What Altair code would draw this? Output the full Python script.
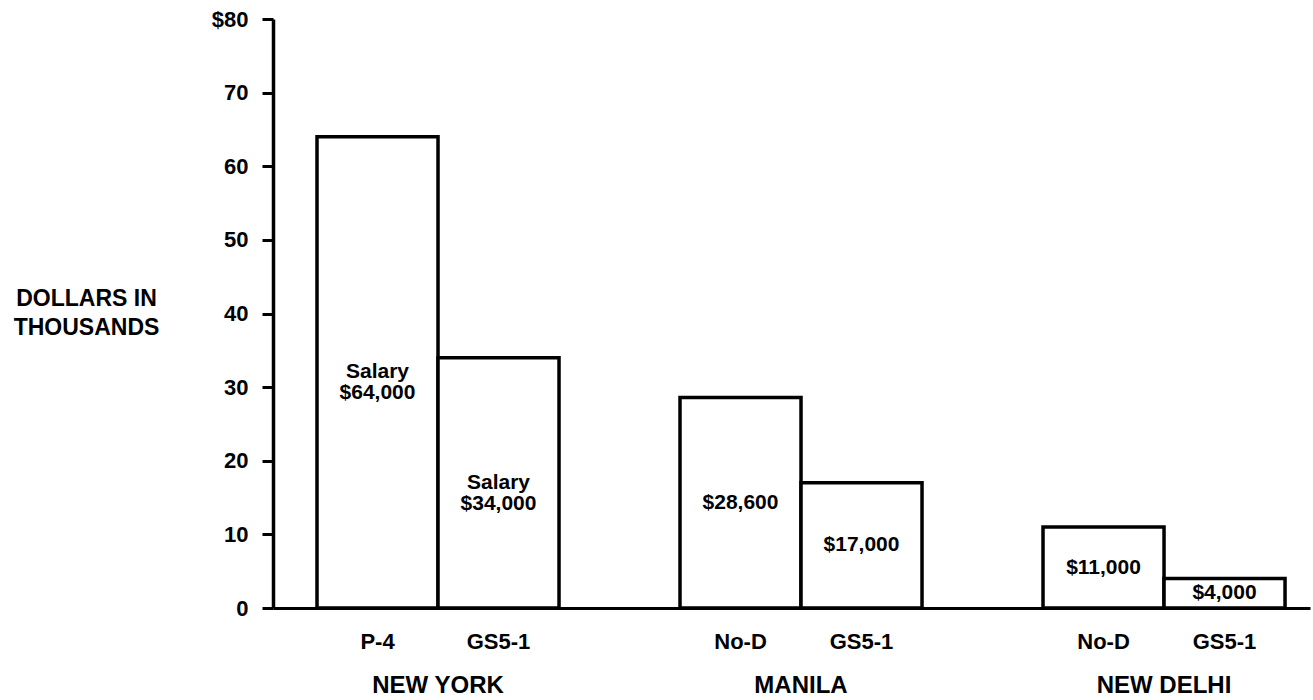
import altair as alt
import pandas as pd

# ---- data ----
cities = ["NEW YORK", "NEW YORK", "MANILA", "MANILA", "NEW DELHI", "NEW DELHI"]
grades = ["P-4", "GS5-1", "No-D", "GS5-1", "No-D", "GS5-1"]
slots = [0, 1, 0, 1, 0, 1]
values = [64, 34, 28.6, 17, 11, 4]
bar_labels = ["Salary\n$64,000", "Salary\n$34,000", "$28,600", "$17,000", "$11,000", "$4,000"]
city_order = ["NEW YORK", "MANILA", "NEW DELHI"]
y_ticks = [0, 10, 20, 30, 40, 50, 60, 70, 80]

df = pd.DataFrame({
    "city": cities,
    "grade": grades,
    "slot": slots,
    "value": values,
    "label": bar_labels,
})

FONT = "Liberation Sans"

x_enc = alt.X(
    "city:N",
    sort=city_order,
    scale=alt.Scale(paddingInner=0.3333, paddingOuter=0.095, align=0.638),
    axis=alt.Axis(
        title=None, ticks=False, tickSize=0, labelAngle=0,
        labelFont=FONT, labelFontSize=24, labelFontWeight="bold",
        labelColor="black", labelPadding=65, labelBaseline="top",
        domainColor="black", domainWidth=3,
    ),
)
xo_enc = alt.XOffset("slot:O", scale=alt.Scale(paddingInner=0, paddingOuter=0))

y_axis = alt.Axis(
    values=y_ticks,
    labelExpr="datum.value == 80 ? '$80' : datum.label",
    grid=False,
    tickSize=11, tickWidth=3, tickColor="black",
    domainColor="black", domainWidth=3.5,
    labelFont=FONT, labelFontSize=22, labelFontWeight="bold",
    labelColor="black", labelPadding=14,
    title=["DOLLARS IN", "THOUSANDS"],
    titleAngle=0, titleAlign="center", titleBaseline="alphabetic",
    titleX=-187, titleY=286,
    titleFont=FONT, titleFontSize=23, titleFontWeight="bold",
    titleColor="black", titleLineHeight=29,
)
y_scale = alt.Scale(domain=[0, 80], nice=False, zero=True)

base = alt.Chart(df)

bars = base.mark_bar(fill="white", stroke="black", strokeWidth=3.5).encode(
    x=x_enc,
    xOffset=xo_enc,
    y=alt.Y("value:Q", scale=y_scale, axis=y_axis),
)

vals = base.transform_calculate(mid="datum.value / 2").mark_text(
    lineBreak="\n", font=FONT, fontSize=21, fontWeight="bold",
    lineHeight=21, color="black", baseline="middle", align="center",
).encode(
    x=x_enc,
    xOffset=xo_enc,
    y=alt.Y("mid:Q", scale=y_scale, axis=y_axis),
    text="label:N",
)

subs = base.mark_text(
    font=FONT, fontSize=22, fontWeight="bold", color="black",
    baseline="middle", align="center",
).encode(
    x=x_enc,
    xOffset=xo_enc,
    y=alt.value(623),
    text="grade:N",
)

chart = alt.layer(bars, vals, subs).properties(
    width=1037,
    height=589,
    autosize=alt.AutoSizeParams(type="none"),
    padding={"left": 273, "top": 19, "right": 3, "bottom": 92},
    background="white",
).configure_view(stroke=None)

chart.save("out.html", embed_options={"renderer": "svg", "actions": False})
